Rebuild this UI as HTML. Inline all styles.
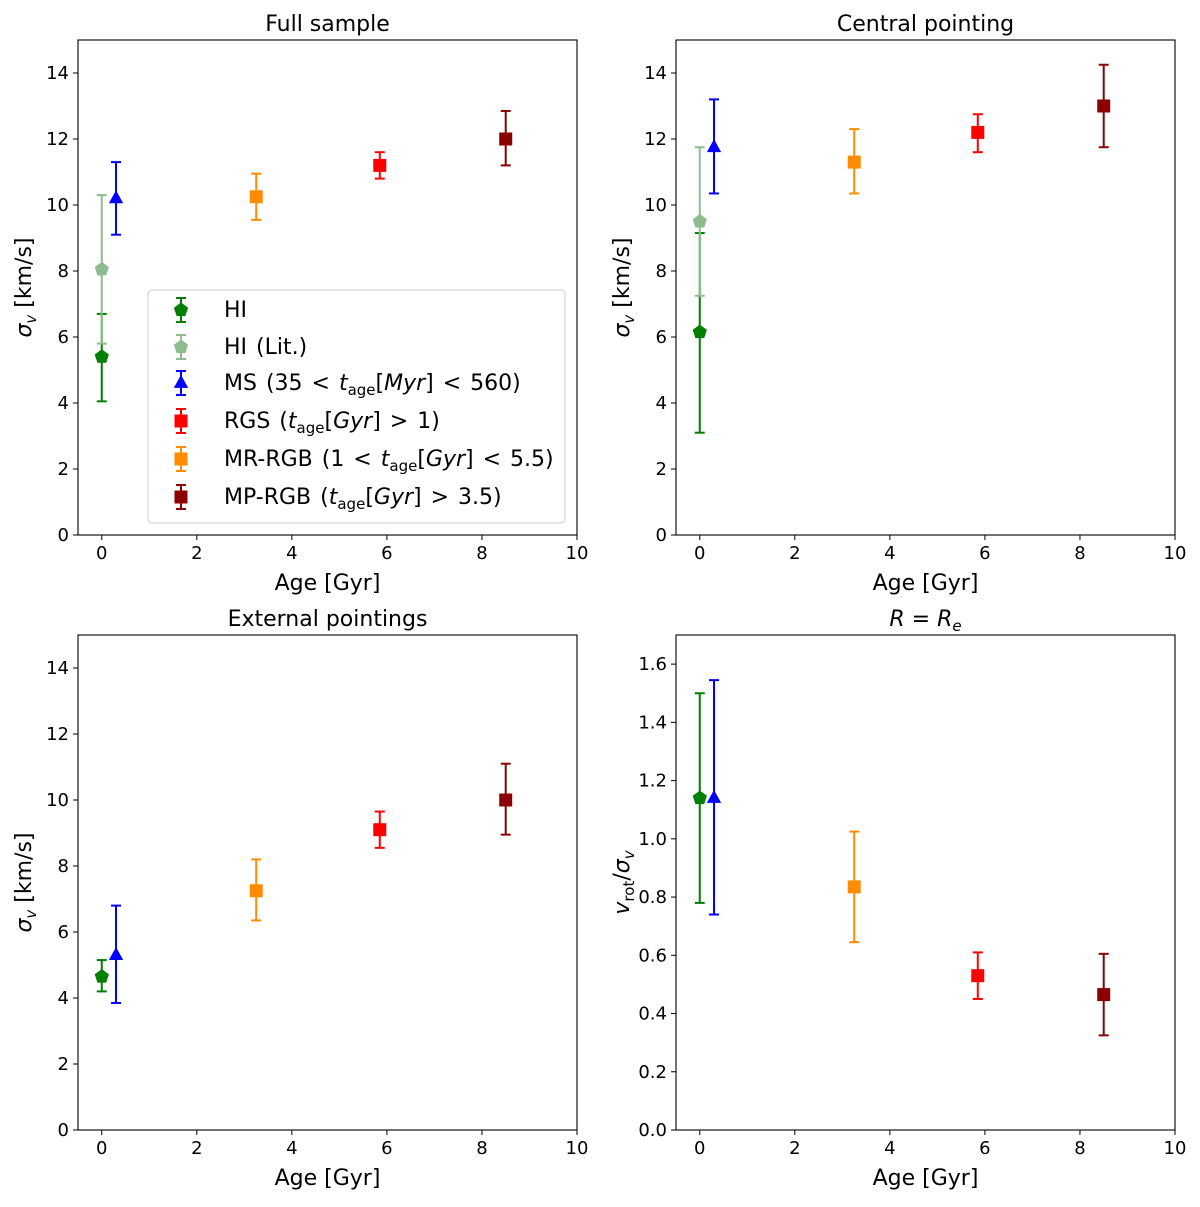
<!DOCTYPE html>
<html><head><meta charset="utf-8"><style>
body{margin:0;background:#fff}
svg{font-family:"DejaVu Sans","Liberation Sans",sans-serif}
</style></head><body>
<svg id="fig" width="1200" height="1202" xmlns="http://www.w3.org/2000/svg"></svg>
<script>
const seriesNames=["HI","HI (Lit.)","MS","RGS","MR-RGB","MP-RGB"];
const seriesColors=["#008000","#8fbc8f","#0000ff","#ff0000","#ff8c00","#8b0000"];
const seriesMarkers=["pent","pent","tri","sq","sq","sq"];
const seriesAges=[0,0,0.3,5.85,3.25,8.5];
const fullVals=[[5.4,4.05,6.7],[8.05,5.8,10.3],[10.2,9.1,11.3],[11.2,10.8,11.6],[10.25,9.55,10.95],[12.0,11.2,12.85]];
const centralVals=[[6.15,3.1,9.15],[9.5,7.25,11.75],[11.75,10.35,13.2],[12.2,11.6,12.75],[11.3,10.35,12.3],[13.0,11.75,14.25]];
const externalVals=[[4.65,4.2,5.15],null,[5.3,3.85,6.8],[9.1,8.55,9.65],[7.25,6.35,8.2],[10.0,8.95,11.1]];
const ratioVals=[[1.14,0.78,1.5],null,[1.14,0.74,1.545],[0.53,0.45,0.61],[0.835,0.645,1.025],[0.465,0.325,0.605]];
const xTicks=[0,2,4,6,8,10];
const sigmaTicks=[0,2,4,6,8,10,12,14];
const ratioTicks=[0,0.2,0.4,0.6,0.8,1.0,1.2,1.4,1.6];

const NS="http://www.w3.org/2000/svg";
const svg=document.getElementById('fig');
function mk(tag,attrs,parent){const e=document.createElementNS(NS,tag);for(const k in attrs)e.setAttribute(k,attrs[k]);(parent||svg).appendChild(e);return e;}

function marker(g,type,cx,cy,color,s){
  let e;
  if(type==='sq'){e=mk('rect',{x:cx-s,y:cy-s,width:2*s,height:2*s,fill:color},g);}
  else if(type==='tri'){e=mk('polygon',{points:`${cx},${cy-s*1.25} ${cx-s*1.1},${cy+s*0.75} ${cx+s*1.1},${cy+s*0.75}`,fill:color},g);}
  else{let p=[];for(let i=0;i<5;i++){const a=-Math.PI/2+i*2*Math.PI/5;p.push((cx+s*1.15*Math.cos(a)).toFixed(1)+','+(cy+s*1.15*Math.sin(a)).toFixed(1));}e=mk('polygon',{points:p.join(' '),fill:color},g);}
  return e;
}

function panel(name,L,T,R,B,ymax,yticks,vals,title,ylabel,dec){
  const g=mk('g',{});
  
  
  const xs=v=>L+(v+0.5)/10.5*(R-L);
  const ys=v=>B-v/ymax*(B-T);
  const t=mk('text',{x:(L+R)/2,y:T-9,'text-anchor':'middle','font-size':22},g);
  
  if(title==='R'){t.innerHTML='<tspan font-style="italic">R</tspan> = <tspan font-style="italic">R</tspan><tspan font-style="italic" font-size="15" dy="5">e</tspan>';}
  else t.textContent=title;
  xTicks.forEach(v=>{const x=xs(v);mk('line',{x1:x,x2:x,y1:B,y2:B+5,stroke:'#000','stroke-width':1},g);
    const tt=mk('text',{x:x,y:B+24,'text-anchor':'middle','font-size':18},g);tt.textContent=v;
    });
  yticks.forEach(v=>{const y=ys(v);mk('line',{x1:L-5,x2:L,y1:y,y2:y,stroke:'#000','stroke-width':1},g);
    const tt=mk('text',{x:L-9,y:y+6,'text-anchor':'end','font-size':18},g);tt.textContent=dec?v.toFixed(1):v;
    });
  const xl=mk('text',{x:(L+R)/2,y:B+55,'text-anchor':'middle','font-size':22},g);xl.textContent='Age [Gyr]';
  
  const yl=mk('text',{transform:`translate(${L-47},${(T+B)/2}) rotate(-90)`,'text-anchor':'middle','font-size':22},g);
  
  if(ylabel==='ratio') yl.innerHTML='<tspan font-style="italic">v</tspan><tspan font-size="15" dy="5">rot</tspan><tspan dy="-5">/</tspan><tspan font-style="italic">σ</tspan><tspan font-style="italic" font-size="15" dy="5">v</tspan>';
  else yl.innerHTML='<tspan font-style="italic">σ</tspan><tspan font-style="italic" font-size="15" dy="5">v</tspan><tspan dy="-5"> [km/s]</tspan>';
  vals.forEach((d,i)=>{if(!d)return;
    const c=seriesColors[i];const x=xs(seriesAges[i]);
    const pg=mk('g',{},g);
    
    
    mk('line',{x1:x,x2:x,y1:ys(d[1]),y2:ys(d[2]),stroke:c,'stroke-width':2},pg);
    [d[1],d[2]].forEach(v=>mk('line',{x1:x-5,x2:x+5,y1:ys(v),y2:ys(v),stroke:c,'stroke-width':2},pg));
    marker(pg,seriesMarkers[i],x,ys(d[0]),c,6.5);
  });
  const fr=mk('rect',{x:L,y:T,width:R-L,height:B-T,fill:'none',stroke:'#000','stroke-width':1.1},g);
  
  return g;
}
panel('panel-full-sample',78,40,577,535,15,sigmaTicks,fullVals,'Full sample','sigma',false);
panel('panel-central-pointing',676,40,1175,535,15,sigmaTicks,centralVals,'Central pointing','sigma',false);
panel('panel-external-pointings',78,635,577,1130,15,sigmaTicks,externalVals,'External pointings','sigma',false);
panel('panel-r-equals-re',676,635,1175,1130,1.7,ratioTicks,ratioVals,'R','ratio',true);

const lg=mk('g',{});


mk('rect',{x:148,y:290,width:417,height:233,rx:4,fill:'#fff','fill-opacity':0.85,stroke:'#ccc','stroke-width':1},lg);
const labels=['HI','HI (Lit.)',
 'MS (35 &lt; <tspan font-style="italic">t</tspan><tspan font-size="15" dy="5">age</tspan><tspan dy="-5">[</tspan><tspan font-style="italic">Myr</tspan>] &lt; 560)',
 'RGS (<tspan font-style="italic">t</tspan><tspan font-size="15" dy="5">age</tspan><tspan dy="-5">[</tspan><tspan font-style="italic">Gyr</tspan>] &gt; 1)',
 'MR-RGB (1 &lt; <tspan font-style="italic">t</tspan><tspan font-size="15" dy="5">age</tspan><tspan dy="-5">[</tspan><tspan font-style="italic">Gyr</tspan>] &lt; 5.5)',
 'MP-RGB (<tspan font-style="italic">t</tspan><tspan font-size="15" dy="5">age</tspan><tspan dy="-5">[</tspan><tspan font-style="italic">Gyr</tspan>] &gt; 3.5)'];
const rowsY=[310,347,383,421,459,497];
labels.forEach((l,i)=>{
  const eg=mk('g',{},lg);
  
  
  const c=seriesColors[i],x=181,y=rowsY[i];
  mk('line',{x1:x,x2:x,y1:y-12,y2:y+12,stroke:c,'stroke-width':2},eg);
  mk('line',{x1:x-5,x2:x+5,y1:y-12,y2:y-12,stroke:c,'stroke-width':2},eg);
  mk('line',{x1:x-5,x2:x+5,y1:y+12,y2:y+12,stroke:c,'stroke-width':2},eg);
  marker(eg,seriesMarkers[i],x,y,c,6.5);
  const t=mk('text',{x:224,y:y+7,'font-size':22,'word-spacing':2},eg);t.innerHTML=l;
});
</script>
</body></html>
